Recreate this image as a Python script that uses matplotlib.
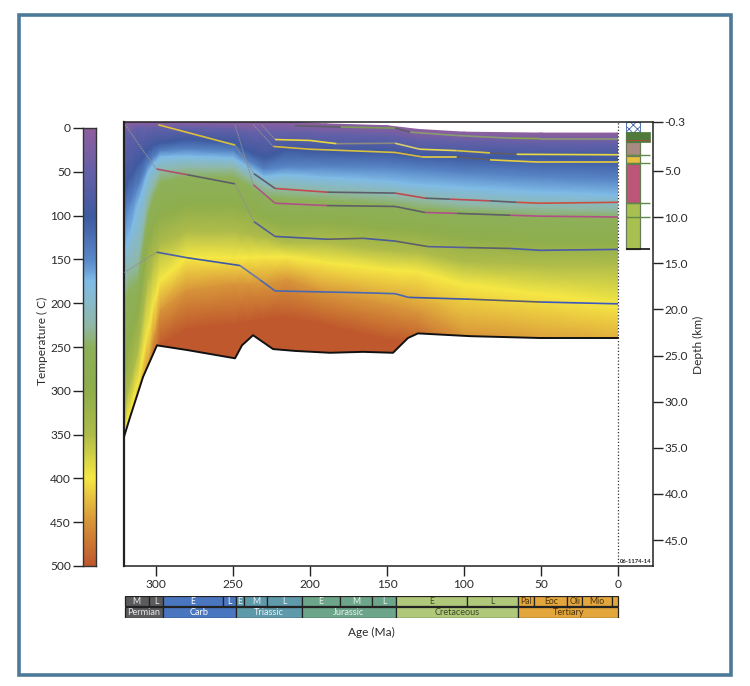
# burial and thermal history plot: temperature field, burial curves, time scale

import numpy as np
import matplotlib
matplotlib.use('Agg')
import matplotlib.pyplot as plt
from matplotlib.colors import LinearSegmentedColormap
from matplotlib.collections import LineCollection
from matplotlib.patches import Polygon, Rectangle

plt.rcParams['font.family'] = ['Lato', 'DejaVu Sans']
plt.rcParams['hatch.linewidth'] = 0.6

# temperature scale (C) and its colours
temp_levels = [0, 50, 100, 150, 175, 225, 250, 300, 350, 400, 450, 500]
temp_colors = ['#8f5f9e', '#6460a8', '#3f5aa0', '#5a88c8', '#80bce8', '#90b8a8',
	'#8db05a', '#8fae4c', '#aebb4a', '#f6e844', '#d8963a', '#bf582d']
temp_ticks = [0, 50, 100, 150, 200, 250, 300, 350, 400, 450, 500]

# depth (km) of each isotherm at these ages (Ma)
field_ages = [321, 317, 312, 305, 301, 297, 280, 250, 240, 230, 215, 190, 150, 130, 100, 50, 0]
iso_0 = [-0.3, -0.3, -0.3, -0.3, -0.3, -0.3, -0.3, -0.3, -0.3, -0.3, -0.3, -0.1, 0.1, 0.5, 0.8, 0.9, 0.9]
iso_50 = [1.1, 0.8, 0.3, 0.4, 0.3, 0.3, 0.3, 0.5, 0.8, 0.8, 0.8, 1.0, 1.2, 1.6, 1.8, 2.0, 2.0]
iso_100 = [7.0, 5.7, 4.3, 2.7, 2.2, 2.0, 1.6, 1.8, 2.9, 3.6, 2.7, 2.9, 3.0, 3.3, 3.5, 3.6, 3.8]
iso_150 = [10.1, 8.7, 7.0, 4.3, 3.5, 2.9, 2.7, 2.9, 4.0, 4.9, 4.6, 4.6, 4.7, 4.9, 5.3, 5.7, 6.0]
iso_175 = [13.6, 11.9, 8.7, 5.1, 4.1, 3.5, 3.4, 3.6, 4.6, 5.6, 5.4, 5.7, 6.1, 6.5, 6.8, 7.3, 7.6]
iso_225 = [17.3, 15.7, 15.2, 8.1, 6.3, 5.1, 4.7, 4.7, 5.7, 6.8, 7.0, 7.3, 7.7, 8.1, 8.7, 9.0, 9.2]
iso_250 = [19.5, 17.9, 17.3, 9.8, 7.6, 6.3, 5.7, 5.7, 6.6, 7.9, 8.1, 8.3, 8.7, 9.2, 9.5, 10.0, 10.1]
iso_300 = [26.6, 23.3, 20.6, 12.5, 10.8, 9.8, 8.7, 8.7, 9.2, 10.1, 10.7, 10.5, 11.2, 11.4, 12.2, 12.7, 12.8]
iso_350 = [30.9, 28.2, 24.9, 16.8, 14.4, 13.0, 11.6, 11.6, 11.9, 12.2, 12.8, 12.8, 13.6, 13.8, 14.9, 15.2, 15.2]
iso_400 = [33.6, 31.1, 28.2, 22.2, 19.0, 16.8, 14.4, 14.4, 14.4, 14.3, 14.3, 14.9, 15.7, 15.9, 17.3, 18.4, 19.5]
iso_450 = [37.4, 34.1, 30.9, 26.0, 22.8, 20.1, 17.9, 17.3, 17.3, 17.3, 16.8, 18.2, 19.5, 20.3, 22.8, 23.9, 24.9]
iso_500 = [41.7, 37.4, 34.1, 29.8, 26.6, 23.9, 22.2, 21.7, 21.4, 21.1, 20.9, 21.7, 23.3, 23.9, 27.6, 29.3, 29.8]
field_floor = 48.0

# basement line
base_age = [320.8, 316.9, 308.4, 299.4, 279.9, 248.7, 244.2, 237, 224, 209.7, 187, 165.6, 146.1, 136.4, 129.9, 96, 50.6, 0]
base_depth = [33.8, 31.7, 27.3, 23.9, 24.4, 25.3, 23.9, 22.8, 24.3, 24.5, 24.7, 24.6, 24.7, 23.1, 22.6, 22.9, 23.1, 23.1]

# burial curves: age, depth and one colour per segment
gry = '#5e5e68'
faint = '#8e8e94'
c1_age = [320, 308, 299.6, 280, 248.7, 236.4, 222.7, 189, 165.4, 144.8, 123.2, 98.3, 70, 50.6, 0]
c1_depth = [0.0, 2.9, 4.8, 5.4, 6.4, 10.5, 12.1, 12.4, 12.3, 12.6, 13.2, 13.3, 13.4, 13.6, 13.5]
c1_col = [faint, faint, '#b0506a', gry, faint, '#55609a', '#4a5a9a', gry, '#4a5a9a', gry, '#55609a', gry, '#4a5aa8', '#4a5aa8']
c2_age = [298.5, 248.7, 236.4, 222.7, 189, 144.8, 125.3, 109, 83.1, 65.8, 50.6, 0]
c2_depth = [0.0, 2.2, 5.3, 6.9, 7.3, 7.4, 7.95, 8.06, 8.24, 8.4, 8.5, 8.4]
c2_col = ['#dcc03a', faint, gry, '#c04a50', gry, '#c04a50', gry, '#c04a50', gry, '#c85040', '#c85040']
c3_age = [248.7, 236.8, 222.7, 189, 144.8, 125.3, 104.8, 70, 50.6, 0]
c3_depth = [0.0, 6.5, 8.5, 8.75, 8.85, 9.5, 9.6, 9.8, 9.9, 10.0]
c3_col = [faint, '#a85a80', '#b0508a', gry, gry, '#b0508a', gry, '#b0508a', '#b0508a']
c4_age = [236.8, 223.8, 200, 144.8, 126.5, 104.8, 83.1, 50.6, 0]
c4_depth = [0.0, 2.35, 2.65, 3.0, 3.5, 3.5, 3.8, 4.05, 4.05]
c4_col = [faint, '#d8b83c', '#d8c040', '#d8b83c', '#e8cc40', gry, '#e8cc40', '#e8cc40']
c5_age = [231.4, 222.7, 200, 182.7, 144.8, 128.6, 104.8, 83.1, 65.8, 0]
c5_depth = [0.0, 1.6, 1.7, 2.05, 2.0, 2.65, 2.8, 3.05, 3.2, 3.25]
c5_col = [faint, '#e8d840', '#e8d840', '#8a8a80', '#d8cc70', '#e8d850', '#d8c840', gry, '#e8dc40']
c6_age = [320.5, 299.6, 280, 245.5, 232.5, 222.7, 165.4, 144.8, 136, 96, 50.6, 0]
c6_depth = [16.0, 13.8, 14.4, 15.25, 16.8, 18.0, 18.2, 18.3, 18.7, 18.9, 19.2, 19.4]
c6_col = [faint, '#4a60a8', '#3c58a8', '#6a78a8', '#4a68b0', '#4a68b0', '#4a68b0', '#4a68b0', '#3c58a8', gry, '#3c58c0']
c7_age = [209.7, 180, 144.8, 135, 104.8, 70, 50.6, 0]
c7_depth = [0.1, 0.25, 0.36, 0.8, 1.16, 1.45, 1.5, 1.5]
c7_col = [gry, '#7a9a58', gry, '#8a9a70', '#8a9a70', '#88a848', '#8a9a70']

# depth axis
depth_ticks = [-0.3, 5, 10, 15, 20, 25, 30, 35, 40, 45]
depth_labels = ['-0.3', '5.0', '10.0', '15.0', '20.0', '25.0', '30.0', '35.0', '40.0', '45.0']
age_ticks = [300, 250, 200, 150, 100, 50, 0]

# lithology column
lith_top = [0.76, 1.84, 3.36, 4.2, 8.45]
lith_bottom = [1.84, 3.25, 4.1, 8.45, 13.45]
lith_color = ['#4f7a3c', '#a88a80', '#e8c040', '#bc5578', '#a8c050']
lith_marks = [3.25, 4.1, 8.45, 10.0]

# time scale
period_names = ['Permian', 'Carb', 'Triassic', 'Jurassic', 'Cretaceous', 'Tertiary']
period_start = [320.4, 295.3, 248.2, 205.4, 144.2, 64.7]
period_end = [295.3, 248.2, 205.4, 144.2, 64.7, 0]
period_color = ['#5b5b5e', '#4a76bf', '#5f9aab', '#6da58a', '#afc87a', '#e3a63c']
period_text = ['#e8e8e8', 'white', '#e8f0f0', '#e8f0e8', '#3c4a28', '#4a3410']
epoch_names = ['M', 'L', 'E', 'L', 'E', 'M', 'L', 'E', 'M', 'L', 'E', 'L', 'Pal', 'Eoc', 'Oli', 'Mio', '']
epoch_start = [320.4, 304.7, 295.3, 256.5, 248.2, 242.7, 227.7, 205.4, 180.5, 159.5, 144.2, 98.2, 64.7, 54.5, 32.9, 23.2, 4.1]
epoch_end = [304.7, 295.3, 256.5, 248.2, 242.7, 227.7, 205.4, 180.5, 159.5, 144.2, 98.2, 64.7, 54.5, 32.9, 23.2, 4.1, 0]
epoch_period = [0, 0, 1, 1, 2, 2, 2, 3, 3, 3, 4, 4, 5, 5, 5, 5, 5]

W, H = 750.0, 686.0
ink = '#222222'
tcol = '#2b2b2b'
fs = 8.6


def px_axes(fig, x0, y0, x1, y1):
	# axes from pixel box, y measured from the top of the image
	return fig.add_axes([x0/W, 1 - y1/H, (x1 - x0)/W, (y1 - y0)/H])


fig = plt.figure(figsize=(7.5, 6.86), dpi=100)
fig.add_artist(Rectangle((18.5/W, 1 - 675/H), 712/W, 660/H, transform=fig.transFigure,
	fill=False, edgecolor='#4e7a99', linewidth=2.6))

cmap = LinearSegmentedColormap.from_list('temp', [(t/500.0, c) for t, c in zip(temp_levels, temp_colors)])

# --------- main panel --------------------
ax = px_axes(fig, 124, 122, 652.5, 566)
ax.set_xlim(320.8, -22.4)
ax.set_ylim(47.8, -0.3)

# last row carries the hottest colour down past the basement
iso = np.array([iso_0, iso_50, iso_100, iso_150, iso_175, iso_225, iso_250, iso_300, iso_350, iso_400, iso_450, iso_500,
	[field_floor]*len(field_ages)])
field_levels = temp_levels + [500]
X = np.tile(field_ages, (len(field_levels), 1))
Z = np.tile(field_levels, (len(field_ages), 1)).T.astype(float)
mesh = ax.pcolormesh(X, iso, Z, shading='gouraud', cmap=cmap, vmin=0, vmax=500, zorder=1)

# field stops at the basement
clip = Polygon(list(zip(base_age, base_depth)) + [(0, -0.3), (320.8, -0.3)], closed=True,
	transform=ax.transData, facecolor='none', edgecolor='none')
ax.add_patch(clip)
mesh.set_clip_path(clip)

curves = [(c1_age, c1_depth, c1_col), (c2_age, c2_depth, c2_col), (c3_age, c3_depth, c3_col),
	(c4_age, c4_depth, c4_col), (c5_age, c5_depth, c5_col), (c6_age, c6_depth, c6_col),
	(c7_age, c7_depth, c7_col)]
for age, depth, col in curves:
	pts = np.column_stack([age, depth])
	segs = np.stack([pts[:-1], pts[1:]], axis=1)
	# the steep early parts of the curves are thin and broken
	widths = [0.8 if c == faint else 1.2 for c in col]
	styles = [(0, (1.5, 0.8)) if c == faint else 'solid' for c in col]
	ax.add_collection(LineCollection(segs, colors=col, linewidths=widths, linestyles=styles, zorder=3))

ax.plot(base_age, base_depth, color='#111111', lw=1.4, zorder=4)
ax.axvline(0, color='#333333', lw=0.9, ls=(0, (1, 1.6)), zorder=4)

# lithology column on the right of age 0
ax.bar(-9.75, np.array(lith_bottom) - np.array(lith_top), bottom=lith_top, width=9.1,
	color=lith_color, edgecolor='#6b7a5a', linewidth=0.9, zorder=2)
ax.bar(-9.75, 1.06, bottom=-0.3, width=9.1, facecolor='white', edgecolor='#3f5fa8',
	hatch='xxxx', linewidth=0.6, zorder=2)
ax.bar(-13, 1.08, bottom=0.76, width=15.6, color='#4f7a3c', edgecolor='#4f7a3c', linewidth=0.5, zorder=2)
ax.hlines(1.6, -5.2, -20.8, color='#a84a3c', lw=0.7, zorder=3)
ax.hlines(lith_marks, -5.2, -20.8, color='#5f8a48', lw=1.0, zorder=3)
ax.hlines(13.45, -5.2, -20.8, color='#111111', lw=1.2, zorder=3)

ax.text(-21.6, 47.55, '06-1174-14', fontsize=4.2, fontweight='bold', color=ink, ha='right', va='bottom', zorder=5)

ax.yaxis.tick_right()
ax.yaxis.set_label_position('right')
ax.set_yticks(depth_ticks)
ax.set_yticklabels(depth_labels)
ax.set_xticks(age_ticks)
ax.set_xticklabels([str(a) for a in age_ticks])
ax.tick_params(axis='both', length=7.2, width=1.0, color=ink, labelsize=fs, labelcolor=tcol)
ax.tick_params(axis='x', pad=2.5)
ax.tick_params(axis='y', pad=1.5)
for s in ax.spines.values():
	s.set_color(ink)
	s.set_linewidth(1.1)
ax.spines['left'].set_linewidth(1.6)
fig.text(698/W, 1 - 345/H, 'Depth (km)', rotation=90, fontsize=fs, color=tcol, ha='center', va='center')
fig.text(371/W, 1 - 632/H, 'Age (Ma)', fontsize=fs, color=tcol, ha='center', va='center')

# --------- temperature scale --------------------
cax = px_axes(fig, 83, 128, 96, 566)
cax.imshow(np.linspace(0, 500, 501).reshape(-1, 1), aspect='auto', cmap=cmap, vmin=0, vmax=500,
	extent=[0, 1, 500, 0], interpolation='bilinear')
cax.set_xticks([])
cax.set_yticks(temp_ticks)
cax.tick_params(axis='y', length=7.2, width=1.0, color=ink, labelsize=fs, labelcolor=tcol, pad=1.5)
for s in cax.spines.values():
	s.set_color('#333333')
	s.set_linewidth(1.0)
fig.text(42/W, 1 - 341/H, 'Temperature ( C)', rotation=90, fontsize=fs, color=tcol, ha='center', va='center')

# --------- time scale --------------------
tax = px_axes(fig, 124, 595.5, 652.5, 617.5)
tax.set_xlim(320.8, -22.4)
tax.set_ylim(0, 2)
tax.axis('off')
for i, name in enumerate(period_names):
	tax.barh(0.5, period_end[i] - period_start[i], left=period_start[i], height=1.0, color=period_color[i],
		edgecolor='#222222', linewidth=0.9)
	tax.text((period_start[i] + period_end[i])/2.0, 0.47, name, fontsize=6.6, color=period_text[i], ha='center', va='center')
for i, name in enumerate(epoch_names):
	p = epoch_period[i]
	tax.barh(1.5, epoch_end[i] - epoch_start[i], left=epoch_start[i], height=0.92, color=period_color[p],
		edgecolor='#222222', linewidth=0.9)
	tax.text((epoch_start[i] + epoch_end[i])/2.0, 1.47, name, fontsize=6.2, color=period_text[p], ha='center', va='center')

fig.savefig('out.png', dpi=100)
